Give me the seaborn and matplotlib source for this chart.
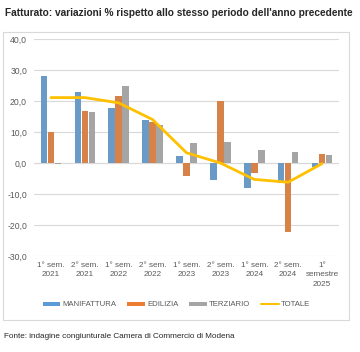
import numpy as np
import pandas as pd
import matplotlib
matplotlib.use("Agg")
import matplotlib.pyplot as plt
import seaborn as sns
from matplotlib.patches import Rectangle, Patch
from matplotlib.lines import Line2D
from matplotlib.ticker import FuncFormatter

# dati
periodi = ["1° sem.\n2021", "2° sem.\n2021", "1° sem.\n2022", "2° sem.\n2022",
           "1° sem.\n2023", "2° sem.\n2023", "1° sem.\n2024", "2° sem.\n2024",
           "1°\nsemestre\n2025"]
manifattura = [28.1, 22.9, 17.6, 13.8, 2.3, -5.4, -8.2, -6.6, -1.4]
edilizia = [10.1, 16.8, 21.6, 13.2, -4.1, 20.0, -3.1, -22.4, 2.9]
terziario = [-0.4, 16.5, 24.9, 12.3, 6.3, 6.7, 4.2, 3.4, 2.6]
totale = [21.1, 21.1, 19.4, 14.0, 3.3, 0.0, -5.3, -6.2, -0.2]

settori = ["MANIFATTURA", "EDILIZIA", "TERZIARIO"]
colori = ["#5B9BD5", "#ED7D31", "#A5A5A5"]
col_totale = "#FFC000"

df = pd.DataFrame({
    "periodo": periodi * 3,
    "settore": np.repeat(settori, len(periodi)),
    "valore": manifattura + edilizia + terziario,
})

sns.set_style("white")
plt.rcParams["font.family"] = ["Liberation Sans", "DejaVu Sans"]

fig = plt.figure(figsize=(3.6, 3.52), dpi=100)

# cornice del grafico
fig.patches.append(Rectangle((3 / 360, 1 - 320 / 352), 346 / 360, 288 / 352,
                             transform=fig.transFigure, fill=False,
                             edgecolor="#D9D9D9", linewidth=0.8))

ax = fig.add_axes([34 / 360, 1 - 256 / 352, 305 / 360, 217 / 352])

sns.barplot(data=df, x="periodo", y="valore", hue="settore",
            palette=colori, width=0.62, gap=0.06, legend=False, ax=ax,
            edgecolor="none")
sns.pointplot(x=periodi, y=totale, color=col_totale, markers="",
              linewidth=2.0, ax=ax)

ax.set_ylim(-30, 40)
ax.set_yticks(range(-30, 41, 10))
ax.yaxis.set_major_formatter(FuncFormatter(lambda v, p: f"{v:.1f}".replace(".", ",")))
ax.set_xlim(-0.5, len(periodi) - 0.5)
ax.grid(axis="y", color="#D9D9D9", linewidth=0.8)
ax.set_axisbelow(True)
ax.axhline(0, color="#D9D9D9", linewidth=0.8, zorder=0.5)
for s in ax.spines.values():
    s.set_visible(False)
ax.set_xlabel("")
ax.set_ylabel("")
ax.tick_params(axis="y", length=0, labelsize=6.2, colors="#595959", pad=5)
ax.tick_params(axis="x", length=0, labelsize=5.9, colors="#595959", pad=4)
ax.set_xticks(range(len(periodi)))
ax.set_xticklabels(periodi, linespacing=1.55)

# legenda
handles = [Patch(facecolor=c, edgecolor="none") for c in colori]
handles.append(Line2D([0], [0], color=col_totale, linewidth=1.5))
fig.legend(handles, settori + ["TOTALE"], loc="center", ncol=4,
           bbox_to_anchor=(0.49, 1 - 305 / 352), frameon=False, fontsize=5.6,
           handlelength=2.3, handleheight=0.5, handletextpad=0.25,
           columnspacing=1.4, labelcolor="#595959")

fig.text(5 / 360, 1 - 13 / 352,
         "Fatturato: variazioni % rispetto allo stesso periodo dell'anno precedente",
         fontsize=7.25, fontweight="bold", va="center", ha="left")
fig.text(4 / 360, 1 - 336 / 352,
         "Fonte: indagine congiunturale Camera di Commercio di Modena",
         fontsize=5.9, va="center", ha="left")

fig.savefig("out.png", dpi=100)
